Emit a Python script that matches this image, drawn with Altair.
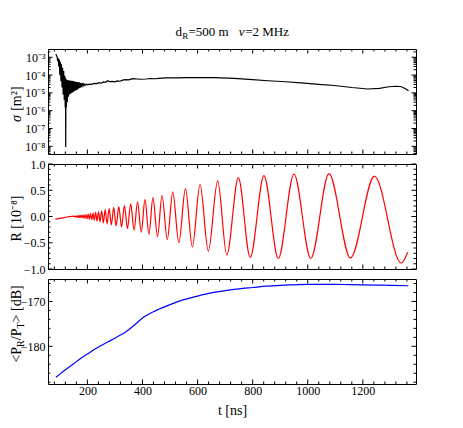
import altair as alt
import pandas as pd

FONT = "Liberation Serif"

# ---------------- data ----------------
# top panel: sigma [m^2] (log scale)
sig_t = [86, 88, 90, 92, 94, 96, 98, 100, 102, 104, 106, 108, 110, 112, 114, 116, 118,
         119.5, 120.5, 121.3, 122.2, 123.5, 125, 127, 129, 131, 133, 135, 137, 139, 141,
         143, 145, 147, 149, 151, 153, 155, 157, 159, 161, 163, 165.5, 168, 170.5, 173,
         175.5, 178, 181, 184, 187, 191, 196, 201, 206, 215, 225, 235, 242, 250, 258, 266,
         273, 281, 291, 300, 309, 318, 328, 339, 350, 364, 380, 395, 412, 430, 445, 460,
         485, 520, 564, 610, 660, 733, 800, 855, 920, 976, 1040, 1097, 1160, 1218, 1260,
         1295, 1322, 1340, 1355, 1366]
sig_v = [1.5e-3, 1.2e-3, 1.1e-3, 6e-4, 9e-4, 3e-4, 7.5e-4, 1.0e-4, 5.5e-4, 4.5e-5, 4e-4,
         2e-5, 2.6e-4, 8e-6, 1.7e-4, 4e-6, 9e-5,
         1.5e-6, 7e-5, 9e-9, 6e-5, 1.5e-6, 5.5e-5, 3e-6, 5.2e-5, 6e-6, 5e-5, 8e-6, 5e-5,
         9e-6, 4.8e-5, 1e-5, 4.7e-5, 1.1e-5, 4.5e-5, 1.2e-5, 4.4e-5, 1.3e-5, 4.2e-5, 1.4e-5,
         4.1e-5, 1.5e-5, 4e-5, 1.7e-5, 3.9e-5, 1.9e-5,
         3.7e-5, 2.1e-5, 3.5e-5, 2.4e-5, 3.3e-5, 2.6e-5, 3.1e-5, 2.8e-5, 3.1e-5, 3.0e-5,
         3.4e-5, 3.3e-5, 3.7e-5, 3.5e-5, 4.1e-5, 3.9e-5,
         4.8e-5, 4.3e-5, 4.4e-5, 4.2e-5, 4.7e-5, 4.5e-5, 5.2e-5, 5.6e-5, 5.4e-5, 6.3e-5,
         6.0e-5, 5.8e-5, 6.0e-5, 6.4e-5, 6.2e-5, 6.5e-5,
         6.9e-5, 7.0e-5, 7.2e-5, 7.3e-5, 7.1e-5, 6.5e-5, 5.6e-5, 4.8e-5, 4.2e-5, 3.6e-5,
         3.0e-5, 2.6e-5, 2.0e-5, 1.65e-5, 1.8e-5,
         2.2e-5, 2.35e-5, 2.2e-5, 1.7e-5, 1.3e-5]

# middle panel: R [1e-8] (start, then successive extrema)
r_t = [84, 95, 110, 125, 140, 150, 153, 156, 159, 162, 165, 168, 171, 174, 177, 180.5,
       184, 187.5, 191, 195, 199, 203, 207, 211.5, 216, 220.5, 225, 230, 235, 240.5, 246,
       252, 258, 264.5, 271.5, 279, 287, 295.5, 304.5, 314, 324, 334.5, 345.5,
       357, 369.5, 382, 395.5, 409, 423.5, 438, 454.5, 471, 490, 510, 532, 556, 581, 609,
       639, 673, 706, 748, 791, 841, 893, 950, 1011, 1077, 1155, 1242, 1339, 1363]
r_v = [-0.05, -0.04, -0.025, -0.01, 0.0, 0.006, -0.007, 0.009, -0.011, 0.013, -0.015,
       0.017, -0.019, 0.021, -0.023, 0.026,
       -0.029, 0.031, -0.034, 0.037, -0.04, 0.045, -0.05, 0.055, -0.06, 0.065, -0.07,
       0.08, -0.085, 0.09, -0.10,
       0.11, -0.12, 0.13, -0.14, 0.15, -0.16, 0.17, -0.18, 0.19, -0.20, 0.21, -0.23,
       0.24, -0.26, 0.28, -0.30, 0.32, -0.34, 0.36, -0.38, 0.40, -0.44, 0.47, -0.50, 0.53,
       -0.58, 0.61,
       -0.66, 0.68, -0.73, 0.74, -0.78, 0.78, -0.80, 0.81, -0.80, 0.815, -0.79, 0.77,
       -0.886, -0.68]

# bottom panel: <P_R/P_T> [dB]
p_t = [86, 100, 125, 150, 175, 200, 225, 250, 275, 300, 320, 336, 350, 370, 400, 450,
       500, 550, 600, 650, 700, 750, 800, 850, 900, 950, 1000, 1050, 1100, 1150, 1200,
       1250, 1300, 1365]
p_v = [-186.9, -186.2, -185.0, -183.9, -182.7, -181.7, -180.7, -179.8, -179.0, -178.2,
       -177.5, -176.9, -176.3, -175.3, -173.7, -172.0, -170.7, -169.6, -168.8, -168.1,
       -167.6, -167.2, -166.9, -166.6, -166.4, -166.3, -166.2, -166.2, -166.2, -166.25,
       -166.3, -166.35, -166.4, -166.5]

# tick values
x_major = [200, 400, 600, 800, 1000, 1200]
x_minor = [80, 120, 160, 240, 280, 320, 360, 440, 480, 520, 560, 640, 680, 720, 760,
           840, 880, 920, 960, 1040, 1080, 1120, 1160, 1240, 1280, 1320, 1360]
sig_major = [1e-8, 1e-7, 1e-6, 1e-5, 1e-4, 1e-3]
sig_minor = [m * d for d in [1e-9, 1e-8, 1e-7, 1e-6, 1e-5, 1e-4, 1e-3]
             for m in range(2, 10) if 3.7e-9 <= m * d <= 2.9e-3]
r_major = [-1.0, -0.5, 0.0, 0.5, 1.0]
r_minor = [-0.9, -0.8, -0.7, -0.6, -0.4, -0.3, -0.2, -0.1, 0.1, 0.2, 0.3, 0.4, 0.6,
           0.7, 0.8, 0.9]
p_major = [-180, -170]
p_minor = [-188, -186, -184, -182, -178, -176, -174, -172, -168, -166]

X_DOMAIN = [57, 1393]
SIG_DOMAIN = [3.7e-9, 2.9e-3]
R_DOMAIN = [-1.0, 1.0]
P_DOMAIN = [-188.4, -165.0]

# ---------------- layout ----------------
W, H = 368, 105
MAJ, MIN = 4.5, 2.5
YT_X = -31.5


def txt(s, x, y, size=12, align="left", baseline="alphabetic", angle=None,
        style="normal"):
    kw = dict(align=align, baseline=baseline, fontSize=size, font=FONT,
              fontStyle=style, color="black")
    if angle is not None:
        kw["angle"] = angle
    return alt.Chart(pd.DataFrame({"s": [s]})).mark_text(**kw).encode(
        text="s:N", x=alt.value(x), y=alt.value(y))


def panel(t, v, yscale, yaxis, color, interp, ymaj, ymin, xaxis, extra):
    xs = alt.Scale(domain=X_DOMAIN, nice=False, zero=False)
    bx = alt.X("t:Q", scale=xs, axis=xaxis)
    by = alt.Y("y:Q", scale=yscale, axis=yaxis)
    df = pd.DataFrame({"t": t, "y": v})
    layers = [alt.Chart(df).mark_line(color=color, strokeWidth=1.2,
                                      interpolate=interp, clip=True)
              .encode(x=bx, y=by)]
    for vals, L in ((x_major, MAJ), (x_minor, MIN)):
        c = alt.Chart(pd.DataFrame({"t": vals})).mark_rule(color="black", strokeWidth=1)
        layers.append(c.encode(x=bx, y=alt.value(H), y2=alt.value(H - L)))
        layers.append(c.encode(x=bx, y=alt.value(0), y2=alt.value(L)))
    for vals, L in ((ymaj, MAJ), (ymin, MIN)):
        c = alt.Chart(pd.DataFrame({"y": vals})).mark_rule(color="black", strokeWidth=1)
        layers.append(c.encode(y=by, x=alt.value(0), x2=alt.value(L)))
        layers.append(c.encode(y=by, x=alt.value(W), x2=alt.value(W - L)))
    layers += extra
    return alt.layer(*layers).properties(width=W, height=H)


yax_common = dict(ticks=False, domain=False, title=None, labelPadding=3, grid=False)

sup = "['⁰','¹','²','³','⁴','⁵','⁶','⁷','⁸','⁹']"
top_axis = alt.Axis(values=sig_major,
                    labelExpr="'10⁻' + " + sup + "[round(-log(datum.value)/LN10)]",
                    **yax_common)
mid_axis = alt.Axis(values=r_major, format=".1f", **yax_common)
bot_axis = alt.Axis(values=p_major, format="d", **yax_common)
bot_xaxis = alt.Axis(values=x_major, format="d", ticks=False, domain=False,
                     title="t [ns]", labelPadding=1, titlePadding=7, grid=False)

# titles built from text pieces (subscripts / italics)
x0 = W / 2 - 56.5
top_extra = [
    txt("d", x0, -13, size=13),
    txt("R", x0 + 6.7, -10, size=9),
    txt("=500 m", x0 + 13, -13, size=13),
    txt("ν", x0 + 63.2, -13, size=13, style="italic"),
    txt("=2 MHz", x0 + 69.7, -13, size=13),
    txt("σ", YT_X, H / 2 + 20.5, size=14, baseline="middle", angle=270, style="italic"),
    txt("[m²]", YT_X, H / 2 + 9.3, size=14, baseline="middle", angle=270),
]
mid_extra = [
    txt("R [10⁻⁸]", YT_X, H / 2 + 2, size=14, align="center", baseline="middle",
        angle=270),
]
y0 = 45 + 38.6
bot_extra = [
    txt("<P", YT_X, y0, size=14, baseline="middle", angle=270),
    txt("R", YT_X + 4, y0 - 15.7, size=10, baseline="middle", angle=270),
    txt("/P", YT_X, y0 - 22.4, size=14, baseline="middle", angle=270),
    txt("T", YT_X + 4, y0 - 34.1, size=10, baseline="middle", angle=270),
    txt("> [dB]", YT_X, y0 - 40.2, size=14, baseline="middle", angle=270),
]

top = panel(sig_t, sig_v, alt.Scale(type="log", domain=SIG_DOMAIN, nice=False),
            top_axis, "black", "linear", sig_major, sig_minor, None, top_extra)
mid = panel(r_t, r_v, alt.Scale(domain=R_DOMAIN, nice=False, zero=False),
            mid_axis, "#ff0000", "monotone", r_major, r_minor, None, mid_extra)
bot = panel(p_t, p_v, alt.Scale(domain=P_DOMAIN, nice=False, zero=False),
            bot_axis, "#0000ff", "monotone", p_major, p_minor, bot_xaxis, bot_extra)

chart = (
    alt.vconcat(top, mid, bot, spacing=10, bounds="flush")
    .properties(padding={"left": 0, "top": 17, "right": 5, "bottom": 5})
    .configure_view(stroke="black", strokeWidth=1)
    .configure_axis(labelFont=FONT, labelFontSize=12, labelColor="black",
                    titleFont=FONT, titleFontSize=14, titleColor="black",
                    titleFontWeight="normal")
)

chart.save("out.html", embed_options={"renderer": "svg", "actions": False})
